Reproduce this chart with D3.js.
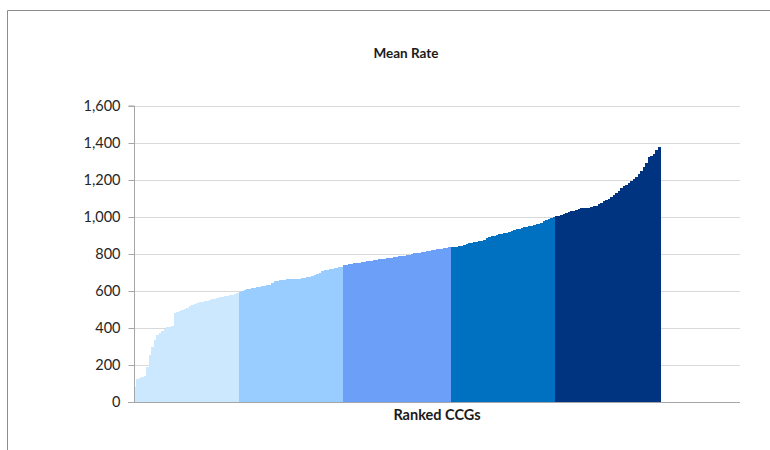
<!DOCTYPE html>
<html>
<head>
<meta charset="utf-8">
<script src="https://cdn.jsdelivr.net/npm/d3@7"></script>
<style>
  html, body { margin: 0; padding: 0; background: #fff; }
  svg { display: block; }
</style>
</head>
<body>
<svg id="chart" width="770" height="450"></svg>
<script>
// Mean rate per CCG, ranked from lowest to highest, split into quintiles
const quintile1 = [80, 125, 128, 137, 142, 190, 255, 300, 335, 360, 372, 382, 395, 403, 408, 412,
  480, 487, 492, 496, 503, 510, 517, 523, 528, 533, 538, 542, 545, 548, 552, 555, 558, 562, 566,
  569, 572, 575, 578, 581, 584, 588];
const quintile2 = [596, 601, 605, 609, 612, 615, 617, 620, 623, 626, 628, 630, 633, 645, 652, 655,
  658, 661, 662, 663, 663, 664, 665, 665, 667, 669, 671, 674, 678, 683, 688, 694, 700, 706, 711,
  714, 717, 720, 723, 726, 729, 732];
const quintile3 = [738, 743, 746, 748, 750, 752, 754, 756, 758, 760, 762, 764, 767, 769, 771, 773,
  775, 777, 779, 781, 783, 785, 787, 789, 791, 794, 797, 800, 803, 806, 808, 810, 813, 816, 818,
  820, 823, 825, 827, 829, 831, 833, 836];
const quintile4 = [836, 837, 839, 841, 843, 847, 852, 857, 860, 863, 866, 868, 870, 875, 885, 893,
  897, 900, 903, 906, 909, 912, 915, 920, 926, 930, 933, 936, 940, 944, 948, 951, 954, 957, 960,
  964, 970, 977, 983, 988, 994, 1000];
const quintile5 = [1003, 1008, 1012, 1016, 1022, 1027, 1031, 1035, 1040, 1045, 1047, 1048, 1049,
  1050, 1053, 1057, 1062, 1070, 1078, 1085, 1093, 1100, 1110, 1120, 1130, 1143, 1155, 1165, 1175,
  1185, 1195, 1205, 1218, 1232, 1246, 1268, 1290, 1326, 1330, 1338, 1360, 1380];

const quintiles = [quintile1, quintile2, quintile3, quintile4, quintile5];
const quintileColors = ["#CCE8FF", "#99CCFF", "#6CA0F8", "#0070C0", "#003380"];
const yTicks = [0, 200, 400, 600, 800, 1000, 1200, 1400, 1600];
const chartTitle = "Mean Rate";
const xTitle = "Ranked CCGs";

// Flatten into ranked records
const ccgs = [];
quintiles.forEach((vals, q) => vals.forEach(v => ccgs.push({ rank: ccgs.length, value: v, q })));

const svg = d3.select("#chart");
const margin = { left: 134, right: 30, top: 106, bottom: 48 };
const W = 770, H = 450;
const plotW = W - margin.left - margin.right;
const plotH = H - margin.top - margin.bottom;

// The category axis has room for more slots than there are CCGs; the trailing slots stay empty
const slotCount = 243;
const x = d3.scaleBand()
  .domain(d3.range(slotCount))
  .range([margin.left, margin.left + plotW])
  .padding(0);
const y = d3.scaleLinear().domain([0, 1600]).range([margin.top + plotH, margin.top]);

// Outer frame (top and left edges)
svg.append("path")
  .attr("d", `M7.5,${H} V10.5 H${W}`)
  .attr("fill", "none").attr("stroke", "#8c8c8c").attr("stroke-width", 1);

// Gridlines
svg.append("g").selectAll("line").data(yTicks.filter(t => t > 0)).join("line")
  .attr("x1", margin.left).attr("x2", margin.left + plotW)
  .attr("y1", d => Math.round(y(d)) + 0.5).attr("y2", d => Math.round(y(d)) + 0.5)
  .attr("stroke", "#d9d9d9").attr("stroke-width", 1.2);

// Bars
svg.append("g").selectAll("rect").data(ccgs).join("rect")
  .attr("x", d => x(d.rank))
  .attr("width", x.bandwidth() + 0.4)
  .attr("y", d => y(d.value))
  .attr("height", d => y(0) - y(d.value))
  .attr("fill", d => quintileColors[d.q])
  .attr("shape-rendering", "crispEdges");

// Y axis
const yAxis = d3.axisLeft(y).tickValues(yTicks).tickSize(6).tickPadding(8)
  .tickFormat(d3.format(","));
const gy = svg.append("g").attr("transform", `translate(${margin.left + 0.5},0)`).call(yAxis);
gy.select(".domain").attr("stroke", "#a6a6a6").attr("d", `M-6,${y(1600)}H0V${y(0)}`);
gy.selectAll(".tick line").attr("stroke", "#a6a6a6");
gy.selectAll(".tick text")
  .attr("font-family", "Lato, 'Open Sans', sans-serif")
  .attr("font-size", 14.5).attr("fill", "#262626");

// X axis baseline
svg.append("line")
  .attr("x1", margin.left - 6).attr("x2", margin.left + plotW)
  .attr("y1", Math.round(y(0)) + 0.5).attr("y2", Math.round(y(0)) + 0.5)
  .attr("stroke", "#a6a6a6");

// Titles
svg.append("text")
  .attr("x", 406).attr("y", 58)
  .attr("text-anchor", "middle")
  .attr("font-family", "Lato, 'Open Sans', sans-serif")
  .attr("font-weight", "bold").attr("font-size", 13.5).attr("fill", "#1a1a1a")
  .text(chartTitle);

svg.append("text")
  .attr("x", 437).attr("y", 420)
  .attr("text-anchor", "middle")
  .attr("font-family", "Lato, 'Open Sans', sans-serif")
  .attr("font-weight", "bold").attr("font-size", 14.5).attr("fill", "#1a1a1a")
  .text(xTitle);
</script>
</body>
</html>
